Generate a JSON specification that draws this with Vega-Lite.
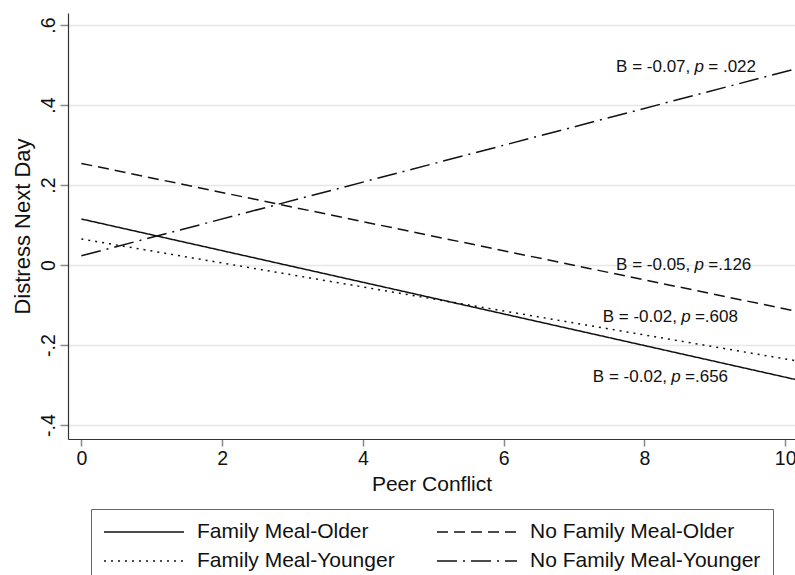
{
  "$schema": "https://vega.github.io/schema/vega-lite/v6.json",
  "width": 727,
  "height": 426,
  "autosize": "none",
  "padding": {"left": 68, "top": 13, "right": 0, "bottom": 136},
  "background": "white",
  "config": {
    "view": {"stroke": null},
    "font": "Liberation Sans",
    "axis": {
      "domainColor": "#333333",
      "domainWidth": 1.2,
      "tickColor": "#888888",
      "tickWidth": 1.5,
      "labelFont": "Liberation Sans",
      "titleFont": "Liberation Sans",
      "labelColor": "#111111",
      "titleColor": "#111111",
      "titleFontWeight": "normal",
      "labelFontSize": 19.5
    }
  },
  "layer": [
    {
      "data": {
        "values": [
          {"series": "Family Meal-Older", "conflict": 0, "distress": 0.115},
          {"series": "Family Meal-Older", "conflict": 10.14, "distress": -0.286},
          {"series": "No Family Meal-Older", "conflict": 0, "distress": 0.254},
          {"series": "No Family Meal-Older", "conflict": 10.14, "distress": -0.115},
          {"series": "Family Meal-Younger", "conflict": 0, "distress": 0.065},
          {"series": "Family Meal-Younger", "conflict": 10.14, "distress": -0.239},
          {"series": "No Family Meal-Younger", "conflict": 0, "distress": 0.023},
          {"series": "No Family Meal-Younger", "conflict": 10.14, "distress": 0.49}
        ]
      },
      "mark": {"type": "line", "color": "#111111", "strokeWidth": 1.5, "strokeCap": "butt"},
      "encoding": {
        "x": {
          "field": "conflict", "type": "quantitative",
          "scale": {"domain": [-0.19, 10.14], "nice": false, "zero": false},
          "axis": {
            "title": "Peer Conflict",
            "titleFontSize": 21,
            "values": [0, 2, 4, 6, 8, 10],
            "format": "d",
            "grid": false,
            "tickSize": 7,
            "labelPadding": 3,
            "titlePadding": 6,
            "labelFlush": false
          }
        },
        "y": {
          "field": "distress", "type": "quantitative",
          "scale": {"domain": [-0.435, 0.63], "nice": false, "zero": false},
          "axis": {
            "title": "Distress Next Day",
            "titleFontSize": 22,
            "values": [-0.4, -0.2, 0, 0.2, 0.4, 0.6],
            "grid": true,
            "gridColor": "#e6e6e6",
            "gridWidth": 1.5,
            "tickSize": 8,
            "labelAngle": -90,
            "labelAlign": "center",
            "labelBaseline": "bottom",
            "labelPadding": 2,
            "titlePadding": 4,
            "labelFlush": false,
            "labelExpr": "datum.value == 0 ? '0' : (datum.value < 0 ? '-' : '') + replace(format(abs(datum.value), '.1f'), '0.', '.')"
          }
        },
        "strokeDash": {
          "field": "series", "type": "nominal",
          "scale": {
            "domain": ["Family Meal-Older", "No Family Meal-Older", "Family Meal-Younger", "No Family Meal-Younger"],
            "range": [[1, 0], [11, 6], [2, 5], [20, 6, 2, 6]]
          },
          "legend": {
            "title": null,
            "orient": "none",
            "direction": "horizontal",
            "legendX": 23,
            "legendY": 496,
            "columns": 2,
            "symbolType": "M-4,0H4",
            "symbolSize": 400,
            "symbolOffset": 30,
            "symbolStrokeWidth": 1.5,
            "symbolStrokeColor": "#111111",
            "labelFont": "Liberation Sans",
            "labelFontSize": 21,
            "labelColor": "#111111",
            "labelOffset": 42,
            "labelLimit": 400,
            "columnPadding": 39,
            "rowPadding": 8,
            "padding": 12,
            "strokeColor": "#666666",
            "fillColor": "white"
          }
        }
      }
    },
    {
      "data": {
        "values": [
          {"conflict": 8.78, "distress": 0.494, "pre": "B = -0.07,", "p": "p", "post": "= .022"},
          {"conflict": 8.78, "distress": 0.001, "pre": "B = -0.05,", "p": "p", "post": "=.126"},
          {"conflict": 8.59, "distress": -0.131, "pre": "B = -0.02,", "p": "p", "post": "=.608"},
          {"conflict": 8.45, "distress": -0.281, "pre": "B = -0.02,", "p": "p", "post": "=.656"}
        ]
      },
      "layer": [
        {
          "mark": {"type": "text", "align": "right", "baseline": "middle", "dx": -9, "fontSize": 17, "font": "Liberation Sans", "color": "#111111"},
          "encoding": {
            "x": {"field": "conflict", "type": "quantitative"},
            "y": {"field": "distress", "type": "quantitative"},
            "text": {"field": "pre"}
          }
        },
        {
          "mark": {"type": "text", "align": "center", "baseline": "middle", "fontSize": 17, "fontStyle": "italic", "font": "Liberation Sans", "color": "#111111"},
          "encoding": {
            "x": {"field": "conflict", "type": "quantitative"},
            "y": {"field": "distress", "type": "quantitative"},
            "text": {"field": "p"}
          }
        },
        {
          "mark": {"type": "text", "align": "left", "baseline": "middle", "dx": 9, "fontSize": 17, "font": "Liberation Sans", "color": "#111111"},
          "encoding": {
            "x": {"field": "conflict", "type": "quantitative"},
            "y": {"field": "distress", "type": "quantitative"},
            "text": {"field": "post"}
          }
        }
      ]
    }
  ]
}
